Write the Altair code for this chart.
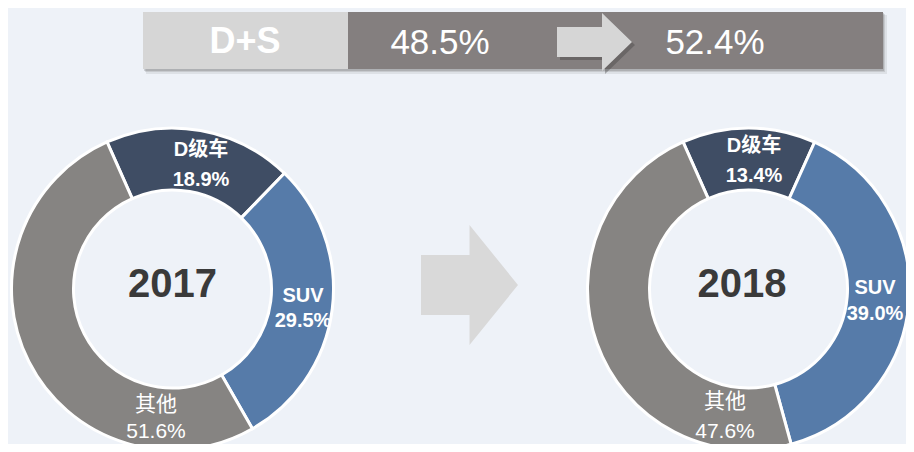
import math
import altair as alt
import pandas as pd

# ---------------- data ----------------
categories = ["D级车", "SUV", "其他"]
share_2017 = [18.9, 29.5, 51.6]
share_2018 = [13.4, 39.0, 47.6]
years = ["2017", "2018"]
banner_label = "D+S"
banner_values = ["48.5%", "52.4%"]

# ---------------- layout / style (page pixels) ----------------
OFF = 8
W, H = 898, 436
FONT = "Liberation Sans, Arial, Noto Sans CJK SC, sans-serif"
BG = "#EEF2F8"
seg_colors = ["#3F4D64", "#567BA9", "#868482"]
donut_center = {"2017": (172.5, 289), "2018": (748.5, 289)}
inner_r, outer_r = 99, 161
start = math.radians(-24)

# label anchor positions per year / category: (x, y_name, y_pct)
label_pos = {
    "2017": [(201, 150, 180), (303, 296, 321), (156, 405, 432)],
    "2018": [(754, 146, 176), (875, 288, 314), (725, 402, 432)],
}
year_pos = {"2017": (172.5, 285), "2018": (742, 285)}


def px(v):
    return v - OFF


# ---------------- decorative banner ----------------
rects = pd.DataFrame([
    # shadows
    dict(x=146, x2=887, y=15, y2=74, fill="#4A4A4A", op=0.10),
    dict(x=145, x2=885, y=14, y2=72, fill="#4A4A4A", op=0.15),
    dict(x=144, x2=884, y=13, y2=71, fill="#4A4A4A", op=0.20),
    # banner
    dict(x=143, x2=348, y=12, y2=69, fill="#D6D6D6", op=1.0),
    dict(x=348, x2=883, y=12, y2=69, fill="#847F7F", op=1.0),
])
for c in ["x", "x2", "y", "y2"]:
    rects[c] = rects[c] - OFF

rect_layer = alt.Chart(rects).mark_rect().encode(
    x=alt.X("x:Q", scale=None, axis=None),
    x2="x2:Q",
    y=alt.Y("y:Q", scale=None, axis=None),
    y2="y2:Q",
    color=alt.Color("fill:N", scale=None),
    opacity=alt.Opacity("op:Q", scale=None),
)

small_arrow_path = "M -1 -0.4 L 0.2 -0.4 L 0.2 -0.773 L 1 0 L 0.2 0.773 L 0.2 0.4 L -1 0.4 Z"
arrows = pd.DataFrame([
    dict(x=597.5, y=45, fill="#3A3A3A", op=0.35),
    dict(x=594.5, y=42, fill="#D6D6D6", op=1.0),
])
arrows["x"] = arrows["x"] - OFF
arrows["y"] = arrows["y"] - OFF
small_arrows = alt.Chart(arrows).mark_point(
    shape=small_arrow_path, filled=True, size=75 ** 2, strokeWidth=0
).encode(
    x=alt.X("x:Q", scale=None, axis=None),
    y=alt.Y("y:Q", scale=None, axis=None),
    color=alt.Color("fill:N", scale=None),
    opacity=alt.Opacity("op:Q", scale=None),
)

big_arrow_path = "M -0.808 -0.5 L 0 -0.5 L 0 -1 L 0.808 0 L 0 1 L 0 0.5 L -0.808 0.5 Z"
big_arrow = alt.Chart(pd.DataFrame({"x": [px(469.5)], "y": [px(285)]})).mark_point(
    shape=big_arrow_path, filled=True, size=120 ** 2, strokeWidth=0,
    color="#D9D9D9", opacity=1,
).encode(
    x=alt.X("x:Q", scale=None, axis=None),
    y=alt.Y("y:Q", scale=None, axis=None),
)

banner_text = pd.DataFrame({
    "t": [banner_label],
    "x": [px(245)], "y": [px(42)],
})
banner_text_layer = alt.Chart(banner_text).mark_text(
    font=FONT, fontSize=36, fontWeight="bold", color="#FFFFFF", baseline="middle", align="center"
).encode(x=alt.X("x:Q", scale=None, axis=None), y=alt.Y("y:Q", scale=None, axis=None), text="t:N")

banner_vals = pd.DataFrame({
    "t": banner_values,
    "x": [px(440), px(715)], "y": [px(43), px(43)],
})
banner_vals_layer = alt.Chart(banner_vals).mark_text(
    font=FONT, fontSize=35, color="#FFFFFF", baseline="middle", align="center"
).encode(x=alt.X("x:Q", scale=None, axis=None), y=alt.Y("y:Q", scale=None, axis=None), text="t:N")

# ---------------- donuts ----------------
shares = {"2017": share_2017, "2018": share_2018}
donut_layers = []
label_rows_bold = []
label_rows_norm = []
for yr in years:
    df = pd.DataFrame({
        "category": categories,
        "share": shares[yr],
        "idx": list(range(len(categories))),
    })
    cx, cy = donut_center[yr]
    donut_layers.append(
        alt.Chart(df).mark_arc(
            innerRadius=inner_r, outerRadius=outer_r, stroke="#FFFFFF", strokeWidth=3
        ).encode(
            theta=alt.Theta("share:Q", stack=True,
                            scale=alt.Scale(domain=[0, 100], range=[start, start + 2 * math.pi])),
            color=alt.Color("category:N", scale=alt.Scale(domain=categories, range=seg_colors), legend=None),
            order=alt.Order("idx:Q"),
            x=alt.value(px(cx)),
            y=alt.value(px(cy)),
        )
    )
    for i, cat in enumerate(categories):
        lx, ly1, ly2 = label_pos[yr][i]
        rows = label_rows_norm if cat == "其他" else label_rows_bold
        rows.append(dict(t=cat, x=px(lx), y=px(ly1)))
        rows.append(dict(t=f"{shares[yr][i]:.1f}%", x=px(lx), y=px(ly2)))

lab_bold = alt.Chart(pd.DataFrame(label_rows_bold)).mark_text(
    font=FONT, fontSize=20, fontWeight="bold", color="#FFFFFF", baseline="middle", align="center"
).encode(x=alt.X("x:Q", scale=None, axis=None), y=alt.Y("y:Q", scale=None, axis=None), text="t:N")

lab_norm = alt.Chart(pd.DataFrame(label_rows_norm)).mark_text(
    font=FONT, fontSize=21, color="#FFFFFF", baseline="middle", align="center"
).encode(x=alt.X("x:Q", scale=None, axis=None), y=alt.Y("y:Q", scale=None, axis=None), text="t:N")

year_df = pd.DataFrame({
    "t": years,
    "x": [px(year_pos[y][0]) for y in years],
    "y": [px(year_pos[y][1]) for y in years],
})
year_layer = alt.Chart(year_df).mark_text(
    font=FONT, fontSize=40, fontWeight="bold", color="#3A3A3A", baseline="middle", align="center"
).encode(x=alt.X("x:Q", scale=None, axis=None), y=alt.Y("y:Q", scale=None, axis=None), text="t:N")

chart = alt.layer(
    rect_layer, small_arrows, banner_text_layer, banner_vals_layer,
    big_arrow, *donut_layers, lab_bold, lab_norm, year_layer,
).properties(
    width=W, height=H, padding=0, background=BG,
    autosize=alt.AutoSizeParams(type="none"),
).configure_view(stroke=None)

chart.save("out.html", embed_options={"renderer": "svg", "actions": False})
